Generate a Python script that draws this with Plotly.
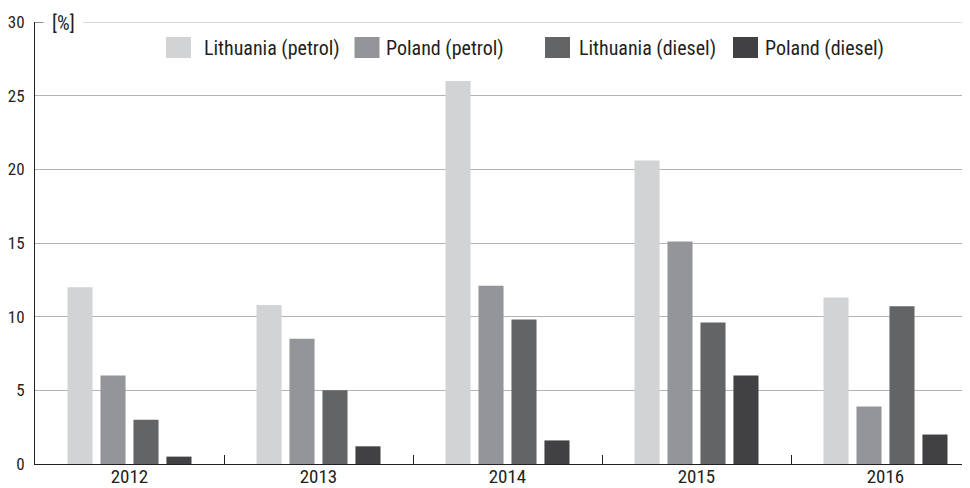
import plotly.graph_objects as go

years = ["2012", "2013", "2014", "2015", "2016"]
series_names = ["Lithuania (petrol)", "Poland (petrol)", "Lithuania (diesel)", "Poland (diesel)"]
lithuania_petrol = [12.0, 10.8, 26.0, 20.6, 11.3]
poland_petrol = [6.0, 8.5, 12.1, 15.1, 3.9]
lithuania_diesel = [3.0, 5.0, 9.8, 9.6, 10.7]
poland_diesel = [0.5, 1.2, 1.6, 6.0, 2.0]
y_ticks = [0, 5, 10, 15, 20, 25, 30]
unit_label = "[%]"

colors = ["#d1d3d4", "#939598", "#636466", "#414042"]
GRID = "#b1b3b6"
INK = "#231f20"
FONT = "Liberation Sans Narrow, Arial Narrow, Roboto Condensed, Roboto, sans-serif"

# the page body adds an 8px margin, so the figure is drawn 8px smaller and
# all screen positions below are shifted by that offset
OFF = 8
W, H = 970 - OFF, 488 - OFF
ML, MR, MT, MB = 35 - OFF, 2, 22 - OFF, 24
PW, PH = W - ML - MR, H - MT - MB


def px(x):
    return (x - OFF - ML) / PW


def py(y):
    return (H - MB - (y - OFF)) / PH


fig = go.Figure()
for name, vals, col in zip(series_names,
                           [lithuania_petrol, poland_petrol, lithuania_diesel, poland_diesel],
                           colors):
    fig.add_trace(go.Bar(x=years, y=vals, name=name, marker=dict(color=col, line=dict(width=0)),
                         showlegend=False))

# manual legend (screen pixel positions)
leg_swatch_x = [166, 354.5, 545, 733]
leg_text_x = [202, 384, 577, 763]
shapes = []
annotations = []
for name, col, sx, tx in zip(series_names, colors, leg_swatch_x, leg_text_x):
    shapes.append(dict(type="rect", xref="paper", yref="paper",
                       x0=px(sx), x1=px(sx + 25), y0=py(58), y1=py(37),
                       fillcolor=col, line=dict(width=0), layer="above"))
    annotations.append(dict(text=name, xref="paper", yref="paper", x=px(tx), y=py(47.5),
                            xanchor="left", yanchor="middle", showarrow=False,
                            font=dict(family=FONT, size=20, color=INK)))

# top line at the last tick: short dark tick, gap for the unit label, then grey rule
top = y_ticks[-1]
shapes.append(dict(type="line", xref="paper", yref="y", x0=px(35), x1=px(43.5), y0=top, y1=top,
                   line=dict(color=INK, width=1), layer="above"))
shapes.append(dict(type="line", xref="paper", yref="y", x0=px(83), x1=1, y0=top, y1=top,
                   line=dict(color=GRID, width=1.2), layer="below"))
annotations.append(dict(text=unit_label, xref="paper", yref="paper", x=px(49.5), y=py(23),
                        xanchor="left", yanchor="middle", showarrow=False,
                        font=dict(family=FONT, size=20, color=INK)))

fig.update_layout(
    width=W, height=H,
    margin=dict(l=ML, r=MR, t=MT, b=MB, pad=0, autoexpand=False),
    paper_bgcolor="white", plot_bgcolor="white",
    barmode="group", bargap=0.302, bargroupgap=0.24,
    font=dict(family=FONT, size=19, color=INK),
    shapes=shapes, annotations=annotations,
    showlegend=False,
)
fig.update_xaxes(
    type="category", range=[-0.5, -0.5 + PW / 189.0], automargin=False,
    showline=True, linecolor=INK, linewidth=1.3,
    ticks="inside", tickson="boundaries", ticklen=9, tickcolor=INK, tickwidth=1,
    showgrid=False, tickfont=dict(family=FONT, size=19, color=INK),
    ticklabelstandoff=-5,
    fixedrange=True,
)
fig.update_yaxes(
    range=[0, 30], tickvals=y_ticks, ticks="", automargin=False,
    showline=True, linecolor=INK, linewidth=1,
    showgrid=True, gridcolor=GRID, gridwidth=1.2, zeroline=False,
    tickfont=dict(family=FONT, size=17, color=INK), ticklabelstandoff=6,
    fixedrange=True,
)

fig.write_html("out.html")
